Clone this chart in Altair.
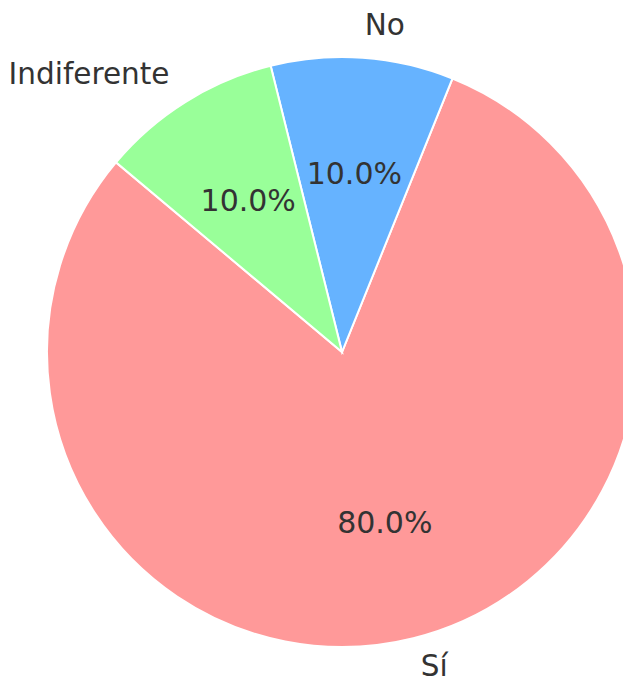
import math
import altair as alt
import pandas as pd

# Data (matplotlib-style pie: startangle=140, counterclockwise)
labels = ["Sí", "No", "Indiferente"]
values = [80, 10, 10]
colors = ["#ff9999", "#66b3ff", "#99ff99"]
START_ANGLE = 140

df = pd.DataFrame({"label": labels, "value": values, "o": list(range(len(labels)))})

# Vega theta: 0 at north, clockwise. Counterclockwise drawing -> descending range.
th0 = math.radians(90 - START_ANGLE + 720)
th1 = th0 - 2 * math.pi
theta_scale = alt.Scale(domain=[0, sum(values)], range=[th0, th1])

CX, CY, R = 334, 344, 295
FONT = "DejaVu Sans"
TXT = "#333333"

base = alt.Chart(df)

arc = base.mark_arc(radius=R, stroke="white", strokeWidth=2).encode(
    theta=alt.Theta("value:Q", stack=True, scale=theta_scale),
    color=alt.Color("label:N", scale=alt.Scale(domain=labels, range=colors), legend=None),
    order=alt.Order("o:Q"),
    x=alt.value(CX),
    y=alt.value(CY),
)

mid = (
    base.transform_joinaggregate(total="sum(value)")
    .transform_window(cum="sum(value)", sort=[alt.SortField("o")], frame=[None, 0])
    .transform_calculate(
        mid="datum.cum - datum.value / 2",
        pct="format(datum.value / datum.total, '.1%')",
        side=f"cos(({START_ANGLE} + 360 * (datum.cum - datum.value / 2) / datum.total) * PI / 180)",
    )
)

theta_mid = alt.Theta("mid:Q", stack=None, scale=theta_scale)

pct = mid.mark_text(
    radius=0.6 * R, fontSize=30, font=FONT, color=TXT, align="center", baseline="middle"
).encode(theta=theta_mid, text="pct:N", x=alt.value(CX), y=alt.value(CY))

LAB_R = 1.1 * R + 1

lab_left = mid.transform_filter("datum.side >= 0").mark_text(
    radius=LAB_R, dy=-1, fontSize=29.5, font=FONT, color=TXT, align="left", baseline="middle"
).encode(theta=theta_mid, text="label:N", x=alt.value(CX), y=alt.value(CY))

lab_right = mid.transform_filter("datum.side < 0").mark_text(
    radius=LAB_R, dy=-1, fontSize=29.5, font=FONT, color=TXT, align="right", baseline="middle"
).encode(theta=theta_mid, text="label:N", x=alt.value(CX), y=alt.value(CY))

chart = (
    alt.layer(arc, pct, lab_left, lab_right)
    .properties(width=615, height=669, autosize=alt.AutoSizeParams(type="none"), padding=0)
    .configure_view(stroke=None)
)

chart.save("out.html", embed_options={"renderer": "svg", "actions": False})
